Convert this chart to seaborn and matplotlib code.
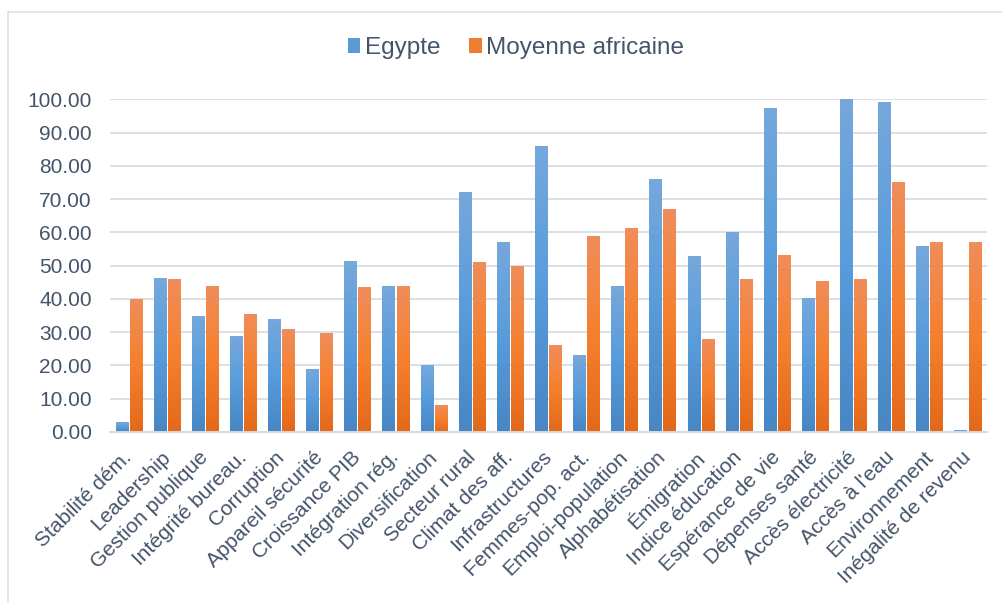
import matplotlib.pyplot as plt
import numpy as np
import pandas as pd
import seaborn as sns
from matplotlib.colors import LinearSegmentedColormap
from matplotlib.lines import Line2D
from matplotlib.patches import Patch

# Data
categories = [
    'Stabilité dém.', 'Leadership', 'Gestion publique', 'Intégrité bureau.',
    'Corruption', 'Appareil sécurité', 'Croissance PIB', 'Intégration rég.',
    'Diversification', 'Secteur rural', 'Climat des aff.', 'Infrastructures',
    'Femmes-pop. act.', 'Emploi-population', 'Alphabétisation', 'Émigration',
    'Indice éducation', 'Espérance de vie', 'Dépenses santé', 'Accès électricité',
    "Accès à l'eau", 'Environnement', 'Inégalité de revenu',
]
egypte = [3.0, 46.3, 34.9, 28.9, 34.0, 19.0, 51.4, 44.0, 20.0, 72.2, 57.1, 86.0,
          23.0, 44.0, 76.0, 53.0, 60.1, 97.4, 40.4, 100.0, 99.2, 56.0, 0.6]
moyenne_africaine = [40.0, 46.0, 43.9, 35.5, 31.0, 29.8, 43.6, 44.0, 8.0, 51.2, 50.0, 26.0,
                     59.0, 61.4, 67.0, 28.0, 46.0, 53.2, 45.4, 46.0, 75.2, 57.1, 57.1]
series_names = ['Egypte', 'Moyenne africaine']
y_ticks = np.arange(0, 101, 10)

df = pd.DataFrame({
    'indicateur': categories * 2,
    'valeur': egypte + moyenne_africaine,
    'serie': [series_names[0]] * len(categories) + [series_names[1]] * len(categories),
})

sns.set_style('white')
plt.rcParams['font.family'] = ['Liberation Sans', 'DejaVu Sans']

text_color = '#44546A'
base_colors = ['#5B9BD5', '#ED7D31']
# bottom -> middle -> top, Excel-like gradient fill
gradients = [
    LinearSegmentedColormap.from_list('blue', ['#4886C4', '#589CDB', '#76A8DC']),
    LinearSegmentedColormap.from_list('orange', ['#E3691A', '#F5802D', '#F08D5B']),
]

fig = plt.figure(figsize=(10.03, 6.03), dpi=100)
ax = fig.add_axes([0.1097, 0.2836, 0.8744, 0.5517])

sns.barplot(data=df, x='indicateur', y='valeur', hue='serie',
            palette=base_colors, width=0.74, gap=0.08, ax=ax, legend=False)

# gradient fill for every bar, clipped to the bar itself
grad = np.linspace(0, 1, 128).reshape(-1, 1)
for container, cmap in zip(ax.containers, gradients):
    for bar in container:
        x0 = bar.get_x()
        x1 = x0 + bar.get_width()
        h = bar.get_height()
        im = ax.imshow(grad, extent=[x0, x1, 0, h], origin='lower', aspect='auto',
                       cmap=cmap, zorder=2, interpolation='bilinear')
        im.set_clip_path(bar)
        bar.set_facecolor('none')
        bar.set_edgecolor('none')

ax.set_xlim(-0.5, len(categories) - 0.5)
ax.set_ylim(0, 100)
ax.set_yticks(y_ticks)
ax.set_yticklabels([f'{v:.2f}' for v in y_ticks])
ax.set_xticks(range(len(categories)))
ax.set_xticklabels(categories, rotation=45, ha='right', va='center', rotation_mode='anchor')
ax.set_xlabel('')
ax.set_ylabel('')

ax.yaxis.grid(True, color='#DCE0E6', linewidth=1.4)
ax.set_axisbelow(True)
for side in ['top', 'right', 'left']:
    ax.spines[side].set_visible(False)
ax.spines['bottom'].set_color('#D6DAE0')
ax.spines['bottom'].set_linewidth(1.4)
ax.tick_params(axis='both', length=0, labelsize=15, colors=text_color)
ax.tick_params(axis='y', pad=13)
ax.tick_params(axis='x', pad=16)

handles = [Patch(facecolor=c, edgecolor='none') for c in base_colors]
fig.legend(handles, series_names, loc='center', bbox_to_anchor=(516 / 1003, 1 - 48 / 603),
           ncol=2, frameon=False, fontsize=17.5, handlelength=0.53, handleheight=0.53,
           handletextpad=0.2, columnspacing=1.15, labelcolor=text_color)

# chart-area border (top and left edges visible in the crop)
fig.add_artist(Line2D([8.5 / 1003, 1.0], [1 - 11.5 / 603] * 2, transform=fig.transFigure,
                      color='#DCE0E5', linewidth=1.2))
fig.add_artist(Line2D([8.5 / 1003] * 2, [0, 1 - 11.5 / 603], transform=fig.transFigure,
                      color='#DCE0E5', linewidth=1.2))

fig.savefig('out.png', dpi=100)
